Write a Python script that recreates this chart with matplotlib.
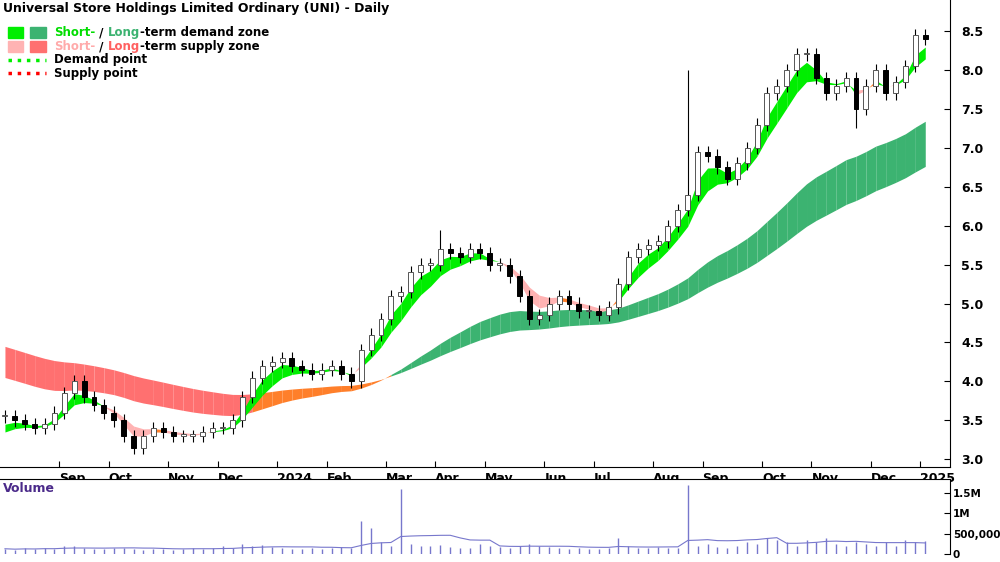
import matplotlib as mpl
mpl.use('Agg')
import numpy as np
import pandas as pd
import matplotlib.pyplot as plt
from matplotlib.patches import Rectangle
from matplotlib.lines import Line2D

## closes every 4 trading days, from 1 Aug 2023
closes = [3.55, 3.50, 3.45, 3.40, 3.45, 3.60, 3.85, 4.00, 3.80, 3.70,
          3.60, 3.50, 3.30, 3.15, 3.30, 3.40, 3.35, 3.30, 3.30, 3.30,
          3.35, 3.40, 3.40, 3.50, 3.80, 4.05, 4.20, 4.25, 4.30, 4.20,
          4.15, 4.10, 4.15, 4.20, 4.10, 4.00, 4.40, 4.60, 4.80, 5.10,
          5.15, 5.40, 5.50, 5.50, 5.70, 5.65, 5.60, 5.70, 5.65, 5.50,
          5.50, 5.35, 5.10, 4.80, 4.85, 5.00, 5.10, 5.00, 4.90, 4.90,
          4.85, 4.95, 5.25, 5.60, 5.70, 5.75, 5.80, 6.00, 6.20, 6.40,
          6.95, 6.90, 6.75, 6.60, 6.80, 7.00, 7.30, 7.70, 7.80, 8.00,
          8.20, 8.20, 7.90, 7.70, 7.80, 7.90, 7.50, 7.80, 8.00, 7.70,
          7.85, 8.05, 8.45, 8.40]
highs_extra = {69: 8.0, 44: 5.95, 86: 7.25}
volumes = [120, 100, 130, 110, 150, 120, 200, 180, 140, 120,
           110, 130, 150, 120, 100, 110, 120, 100, 110, 150,
           120, 130, 200, 150, 250, 180, 220, 160, 140, 120,
           110, 130, 120, 140, 160, 150, 800, 650, 300, 200,
           1600, 250, 200, 180, 220, 160, 150, 140, 250, 200,
           160, 140, 180, 250, 200, 160, 150, 120, 130, 110,
           120, 130, 400, 180, 150, 140, 160, 140, 150, 1700,
           200, 250, 160, 150, 200, 300, 250, 400, 350, 300,
           200, 350, 300, 400, 250, 200, 300, 250, 200, 280,
           200, 350, 300, 320]

## zone seeds read from the left edge
ST_SEED = (3.45, 3.35)
LT_SEED = (4.05, 4.45)

TITLE = "Universal Store Holdings Limited Ordinary (UNI) - Daily"
STEP = 4
dates = pd.bdate_range("2023-08-01", periods=len(closes) * STEP)[::STEP]

c = np.array(closes)
o = np.r_[c[0], c[:-1]]
hi = np.maximum(o, c) + 0.08
lo = np.minimum(o, c) - 0.08
for k, v in highs_extra.items():
    if v > hi[k]:
        hi[k] = v
    else:
        lo[k] = v
x = np.arange(len(c))

def ema(vals, span, seed):
    a = 2.0 / (span + 1)
    out = [seed]
    for v in vals[1:]:
        out.append(out[-1] + a * (v - out[-1]))
    return np.array(out)

st_f, st_s = ema(c, 3, ST_SEED[0]), ema(c, 6, ST_SEED[1])
lt_f, lt_s = ema(c, 29, LT_SEED[0]), ema(c, 48, LT_SEED[1])

fig = plt.figure(figsize=(10, 5.62), dpi=100)
ax = fig.add_axes([0.0, 0.169, 0.95, 0.831])
axv = fig.add_axes([0.0, 0.015, 0.95, 0.132], sharex=ax)

def zone(f, s, bull, bear, mid):
    for i in range(len(c) - 1):
        if f[i] >= s[i]:
            col = bull
        elif c[i] > max(f[i], s[i]):
            col = mid
        else:
            col = bear
        ax.fill_between(x[i:i + 2], f[i:i + 2], s[i:i + 2], color=col, lw=0, zorder=1)

zone(lt_f, lt_s, '#3cb371', '#ff7070', '#ff7f2a')
zone(st_f, st_s, '#00ee00', '#ffb3b3', '#ff7f2a')

w = 0.5
for i in range(len(c)):
    ax.vlines(x[i], lo[i], hi[i], color='black', lw=0.8, zorder=2)
    up = c[i] >= o[i]
    b0, bh = min(o[i], c[i]), max(abs(c[i] - o[i]), 0.02)
    ax.add_patch(Rectangle((x[i] - w / 2, b0), w, bh, facecolor='white' if up else 'black',
                           edgecolor='#555555' if up else 'black', lw=0.7, zorder=3))

ax.set_xlim(-0.5, 95.5)
ax.set_ylim(2.9, 8.9)
ax.yaxis.tick_right()
ax.set_yticks(np.arange(3.0, 8.51, 0.5))
ax.set_yticklabels(["%.1f" % v for v in np.arange(3.0, 8.51, 0.5)], fontweight='bold', fontsize=9)
ax.tick_params(axis='y', direction='in', length=4, pad=8)

# month ticks
mt, ml = [], []
for i in range(1, len(dates)):
    if dates[i].month != dates[i - 1].month:
        pos = i - 0.5
        if pos < 3:
            continue
        mt.append(pos)
        ml.append(str(dates[i].year) if dates[i].month == 1 else dates[i].strftime("%b"))
ax.set_xticks(mt)
ax.set_xticklabels(ml, fontweight='bold', fontsize=9, ha='left')
ax.tick_params(axis='x', direction='in', length=4)
for sp in ['top', 'left']:
    ax.spines[sp].set_visible(False)

ax.text(0.003, 0.995, TITLE, transform=ax.transAxes, va='top', fontsize=9, fontweight='bold')
ax.add_patch(Rectangle((0.008, 0.918), 0.016, 0.024, transform=ax.transAxes, color='#00ee00'))
ax.add_patch(Rectangle((0.032, 0.918), 0.016, 0.024, transform=ax.transAxes, color='#3cb371'))
ax.add_patch(Rectangle((0.008, 0.888), 0.016, 0.024, transform=ax.transAxes, color='#ffb3b3'))
ax.add_patch(Rectangle((0.032, 0.888), 0.016, 0.024, transform=ax.transAxes, color='#ff7070'))
ax.add_line(Line2D([0.008, 0.048], [0.872, 0.872], transform=ax.transAxes, color='#00ee00', ls=':', lw=2.5))
ax.add_line(Line2D([0.008, 0.048], [0.843, 0.843], transform=ax.transAxes, color='red', ls=':', lw=2.5))
fs = 8.5
def seg(parts, y):
    xx = 0.057
    for s, col in parts:
        tt = ax.text(xx, y, s, transform=ax.transAxes, color=col, fontsize=fs, fontweight='bold', va='center')
        fig.canvas.draw()
        bb = tt.get_window_extent().transformed(ax.transAxes.inverted())
        xx = bb.x1
seg([("Short-", '#00dd00'), (" / ", 'black'), ("Long", '#3cb371'), ("-term demand zone", 'black')], 0.930)
seg([("Short-", '#ffaaaa'), (" / ", 'black'), ("Long", '#ff6060'), ("-term supply zone", 'black')], 0.900)
ax.text(0.057, 0.872, "Demand point", transform=ax.transAxes, fontsize=fs, fontweight='bold', va='center')
ax.text(0.057, 0.843, "Supply point", transform=ax.transAxes, fontsize=fs, fontweight='bold', va='center')

v = np.array(volumes) * 1000.0
axv.vlines(x, 0, v, color='#7777cc', lw=1.0)
axv.plot(x, pd.Series(v).rolling(10, min_periods=1).mean(), color='#7777cc', lw=0.8)
axv.set_ylim(0, 1.85e6)
axv.yaxis.tick_right()
axv.set_yticks([0, 5e5, 1e6, 1.5e6])
axv.set_yticklabels(["0", "500,000", "1M", "1.5M"], fontweight='bold', fontsize=7.5)
axv.tick_params(axis='y', direction='in', length=4, pad=2)
axv.tick_params(axis='x', bottom=False, labelbottom=False)
for sp in ['left', 'bottom']:
    axv.spines[sp].set_visible(False)
axv.text(0.003, 0.97, "Volume", transform=axv.transAxes, va='top', fontsize=9, fontweight='bold', color='#4b2a8a')

fig.savefig("out.png", dpi=100)
